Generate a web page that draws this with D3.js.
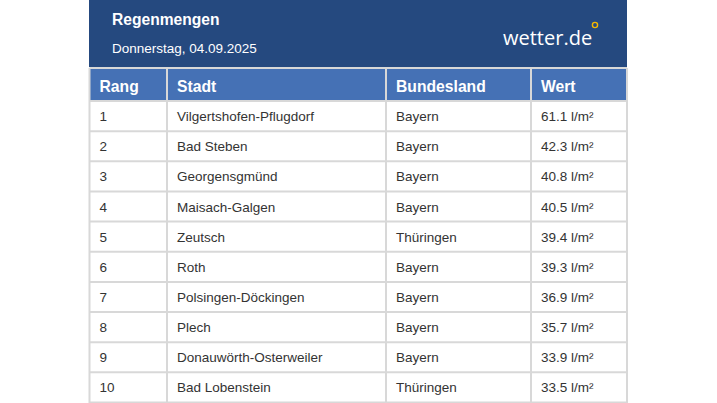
<!DOCTYPE html>
<html>
<head>
<meta charset="utf-8">
<script src="https://cdn.jsdelivr.net/npm/d3@7"></script>
<style>
    html, body { margin: 0; padding: 0; background: #fff; }
    text { font-family: "Liberation Sans", Arial, sans-serif; }
</style>
</head>
<body>
<div id="chart"></div>
<script>
const title = "Regenmengen";
const subtitle = "Donnerstag, 04.09.2025";
const columns = ["Rang", "Stadt", "Bundesland", "Wert"];
const ranks = ["1", "2", "3", "4", "5", "6", "7", "8", "9", "10"];
const cities = ["Vilgertshofen-Pflugdorf", "Bad Steben", "Georgensgmünd", "Maisach-Galgen", "Zeutsch",
    "Roth", "Polsingen-Döckingen", "Plech", "Donauwörth-Osterweiler", "Bad Lobenstein"];
const states = ["Bayern", "Bayern", "Bayern", "Bayern", "Thüringen",
    "Bayern", "Bayern", "Bayern", "Bayern", "Thüringen"];
const values = [61.1, 42.3, 40.8, 40.5, 39.4, 39.3, 36.9, 35.7, 33.9, 33.5];

const width = 717, height = 403;
const left = 89.5, right = 627;
const colEdges = [89.5, 167, 386, 531, 627];
const headTop = 68, bodyTop = 101, bodyBottom = 402.5;
const lineColor = "#d8d8d8";

const svg = d3.select("#chart").append("svg")
    .attr("width", width)
    .attr("height", height)
    .style("display", "block");

// body rows, the header row sits above this range
const yScale = d3.scaleBand()
    .domain(ranks)
    .range([bodyTop, bodyBottom]);

// title bar
svg.append("rect")
    .attr("x", 89).attr("y", 0)
    .attr("width", 538).attr("height", 67)
    .attr("fill", "#25497f");

svg.append("text").attr("x", 112).attr("y", 25)
    .attr("fill", "#fff").attr("font-size", 15.6).attr("font-weight", "bold")
    .text(title);
svg.append("text").attr("x", 112).attr("y", 53)
    .attr("fill", "#fff").attr("font-size", 13.5)
    .text(subtitle);

// logo
svg.append("text").attr("x", 503).attr("y", 45)
    .attr("fill", "#fff").attr("font-size", 20)
    .style("font-family", "'Open Sans', sans-serif")
    .text("wetter.de");
svg.append("circle").attr("cx", 595).attr("cy", 25).attr("r", 2.6)
    .attr("fill", "none").attr("stroke", "#f5b800").attr("stroke-width", 1.4);

// header row
svg.append("rect")
    .attr("x", left).attr("y", headTop)
    .attr("width", right - left).attr("height", bodyTop - headTop)
    .attr("fill", "#4571b5");

svg.selectAll(".head")
    .data(columns)
    .enter()
    .append("text")
    .attr("class", "head")
    .attr("x", (d, i) => colEdges[i] + 10)
    .attr("y", 91.5)
    .attr("fill", "#fff")
    .attr("font-size", 15.7)
    .attr("font-weight", "bold")
    .text(d => d);

// body cells
let rows = ranks.map((r, i) => [r, cities[i], states[i], values[i].toFixed(1) + " l/m²"]);

rows.forEach((row, i) => {
    svg.selectAll(".cell" + i)
        .data(row)
        .enter()
        .append("text")
        .attr("class", "cell" + i)
        .attr("x", (d, j) => colEdges[j] + 10)
        .attr("y", yScale(ranks[i]) + yScale.bandwidth() / 2 + 5)
        .attr("fill", "#333")
        .attr("font-size", 13.5)
        .text(d => d);
});

// grid lines
let hLines = [headTop].concat(ranks.map(d => yScale(d)), [bodyBottom]);
svg.selectAll(".hline")
    .data(hLines)
    .enter()
    .append("line")
    .attr("x1", left).attr("x2", right)
    .attr("y1", d => d)
    .attr("y2", d => d)
    .attr("stroke", lineColor)
    .attr("stroke-width", 2);

svg.selectAll(".vline")
    .data(colEdges)
    .enter()
    .append("line")
    .attr("x1", d => d).attr("x2", d => d)
    .attr("y1", headTop).attr("y2", 403)
    .attr("stroke", lineColor)
    .attr("stroke-width", 2);
</script>
</body>
</html>
